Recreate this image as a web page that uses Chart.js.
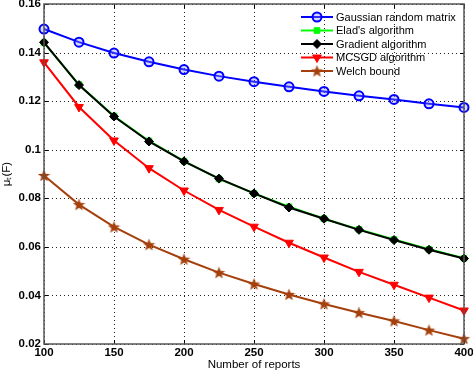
<!DOCTYPE html>
<html>
<head>
<meta charset="utf-8">
<script src="https://cdn.jsdelivr.net/npm/chart.js@4.4.0/dist/chart.umd.min.js"></script>
<style>
  html, body { margin: 0; padding: 0; background: #fff; }
  #wrap { width: 473px; height: 372px; }
</style>
</head>
<body>
<div id="wrap"><canvas id="lineChart" width="473" height="372"></canvas></div>
<script>
const reports = [100, 125, 150, 175, 200, 225, 250, 275, 300, 325, 350, 375, 400];
const gaussian = [0.1497, 0.1443, 0.1398, 0.1362, 0.1330, 0.1303, 0.1280, 0.1259, 0.1240, 0.1222, 0.1207, 0.1189, 0.1174];
const elad = [0.1440, 0.1268, 0.1139, 0.1036, 0.0953, 0.0880, 0.0820, 0.0765, 0.0716, 0.0672, 0.0630, 0.0590, 0.0553];
const gradient = [0.1442, 0.1266, 0.1137, 0.1034, 0.0952, 0.0881, 0.0820, 0.0762, 0.0716, 0.0670, 0.0628, 0.0588, 0.0552];
const mcsgd = [0.1360, 0.1176, 0.1038, 0.0924, 0.0832, 0.0752, 0.0683, 0.0617, 0.0556, 0.0497, 0.0444, 0.0391, 0.0338];
const welch = [0.0894, 0.0774, 0.0682, 0.0609, 0.0549, 0.0494, 0.0447, 0.0404, 0.0365, 0.0329, 0.0295, 0.0257, 0.0222];
const seriesNames = ['Gaussian random matrix', "Elad's algorithm", 'Gradient algorithm', 'MCSGD algorithm', 'Welch bound'];

const brown = '#A5400C';

// filled five point star for the Welch bound markers
function makeStar(size, color) {
    const c = document.createElement('canvas');
    c.width = size; c.height = size;
    const g = c.getContext('2d');
    const cx = size / 2, cy = size / 2 + 0.5, ro = size / 2, ri = ro * 0.42;
    g.beginPath();
    for (let i = 0; i < 10; i++) {
        const r = i % 2 === 0 ? ro : ri;
        const a = -Math.PI / 2 + i * Math.PI / 5;
        const px = cx + r * Math.cos(a), py = cy + r * Math.sin(a);
        if (i === 0) g.moveTo(px, py); else g.lineTo(px, py);
    }
    g.closePath();
    g.fillStyle = color;
    g.fill();
    return c;
}
const starImg = makeStar(13, brown);

const toPts = vals => vals.map((v, i) => ({ x: reports[i], y: v }));

const datasets = [
    { label: seriesNames[0], data: toPts(gaussian), borderColor: '#0000FF', backgroundColor: 'rgba(140,140,255,0.35)',
      pointStyle: 'circle', pointRadius: 4.5, pointBorderWidth: 2, order: 4 },
    { label: seriesNames[1], data: toPts(elad), borderColor: '#00FF00', backgroundColor: '#00FF00',
      pointStyle: 'rect', pointRadius: 4, pointBorderWidth: 1, order: 3 },
    { label: seriesNames[2], data: toPts(gradient), borderColor: '#000000', backgroundColor: '#000000',
      pointStyle: 'rectRot', pointRadius: 4.5, pointBorderWidth: 1, order: 2 },
    { label: seriesNames[3], data: toPts(mcsgd), borderColor: '#FF0000', backgroundColor: '#FF0000',
      pointStyle: 'triangle', rotation: 180, pointRadius: 5, pointBorderWidth: 1, order: 1 },
    { label: seriesNames[4], data: toPts(welch), borderColor: brown, backgroundColor: brown,
      pointStyle: starImg, pointRadius: 6, order: 0 }
];
datasets.forEach(d => { d.borderWidth = 2; d.tension = 0; d.fill = false; d.clip = false; });

// dotted grid drawn under the lines
const dottedGrid = {
    id: 'dottedGrid',
    beforeDatasetsDraw(chart) {
        const { ctx, chartArea: a, scales } = chart;
        ctx.save();
        ctx.strokeStyle = '#222';
        ctx.lineWidth = 1;
        ctx.setLineDash([1, 3]);
        ctx.beginPath();
        scales.y.ticks.forEach(t => {
            const y = Math.round(scales.y.getPixelForValue(t.value)) + 0.5;
            ctx.moveTo(a.left, y); ctx.lineTo(a.right, y);
        });
        scales.x.ticks.forEach(t => {
            const x = Math.round(scales.x.getPixelForValue(t.value)) + 0.5;
            ctx.moveTo(x, a.top); ctx.lineTo(x, a.bottom);
        });
        ctx.stroke();
        ctx.restore();
    }
};

// box, inner ticks and the legend inside the axes
const matlabFrame = {
    id: 'matlabFrame',
    afterDatasetsDraw(chart) {
        const { ctx, chartArea: a, scales } = chart;
        ctx.save();
        ctx.strokeStyle = '#000';
        ctx.lineWidth = 1;
        ctx.beginPath();
        scales.y.ticks.forEach(t => {
            const y = Math.round(scales.y.getPixelForValue(t.value)) + 0.5;
            ctx.moveTo(a.left, y); ctx.lineTo(a.left + 4, y);
            ctx.moveTo(a.right, y); ctx.lineTo(a.right - 4, y);
        });
        scales.x.ticks.forEach(t => {
            const x = Math.round(scales.x.getPixelForValue(t.value)) + 0.5;
            ctx.moveTo(x, a.bottom); ctx.lineTo(x, a.bottom - 4);
            ctx.moveTo(x, a.top); ctx.lineTo(x, a.top + 4);
        });
        ctx.stroke();
        ctx.strokeStyle = '#555';
        ctx.lineWidth = 1.5;
        ctx.strokeRect(a.left, a.top, a.right - a.left, a.bottom - a.top);

        // legend
        const lx = a.right - 163, ly = a.top + 13, rowH = 13.5;
        ctx.font = '11px "Liberation Sans", Arial, sans-serif';
        ctx.textBaseline = 'middle';
        chart.data.datasets.forEach((d, i) => {
            const y = ly + i * rowH;
            ctx.strokeStyle = d.borderColor;
            ctx.lineWidth = 2;
            ctx.beginPath();
            ctx.moveTo(lx, y); ctx.lineTo(lx + 32, y);
            ctx.stroke();
            ctx.fillStyle = d.backgroundColor;
            ctx.strokeStyle = d.borderColor;
            ctx.lineWidth = d.pointBorderWidth || 1;
            Chart.helpers.drawPoint(ctx, {
                pointStyle: d.pointStyle, rotation: d.rotation || 0, radius: d.pointRadius,
                borderWidth: d.pointBorderWidth || 1
            }, lx + 16, y);
            ctx.fillStyle = '#000';
            ctx.fillText(d.label, lx + 35, y + 0.5);
        });
        ctx.restore();
    }
};

const ctx = document.getElementById('lineChart').getContext('2d');
new Chart(ctx, {
    type: 'line',
    data: { datasets: datasets },
    plugins: [dottedGrid, matlabFrame],
    options: {
        responsive: false,
        animation: false,
        layout: { autoPadding: false, padding: { left: 0, right: 9, top: 4, bottom: 0 } },
        plugins: {
            legend: { display: false },
            tooltip: { enabled: false }
        },
        scales: {
            x: {
                type: 'linear',
                min: 100, max: 400,
                afterFit: s => { s.height = 28; s.paddingLeft = 0; s.paddingRight = 0; },
                ticks: { stepSize: 50, color: '#000', padding: 2,
                         font: { family: '"Liberation Sans", Arial', size: 11.5, weight: 'bold' } },
                grid: { display: false, drawTicks: false, tickLength: 0 },
                border: { display: false },
                title: { display: true, text: 'Number of reports', color: '#000', padding: { top: 0, bottom: 0 },
                         font: { family: '"Liberation Sans", Arial', size: 11.5 } }
            },
            y: {
                min: 0.02, max: 0.16,
                afterFit: s => { s.width = 44; s.paddingTop = 0; s.paddingBottom = 0; },
                ticks: { stepSize: 0.02, color: '#000', padding: 3,
                         callback: v => Number(v.toFixed(2)).toString(),
                         font: { family: '"Liberation Sans", Arial', size: 11.5, weight: 'bold' } },
                grid: { display: false, drawTicks: false, tickLength: 0 },
                border: { display: false },
                title: { display: true, text: 'μₜ(F)', color: '#000', padding: { top: 0, bottom: 2 },
                         font: { family: '"Liberation Sans", Arial', size: 11.5 } }
            }
        }
    }
});
</script>
</body>
</html>
